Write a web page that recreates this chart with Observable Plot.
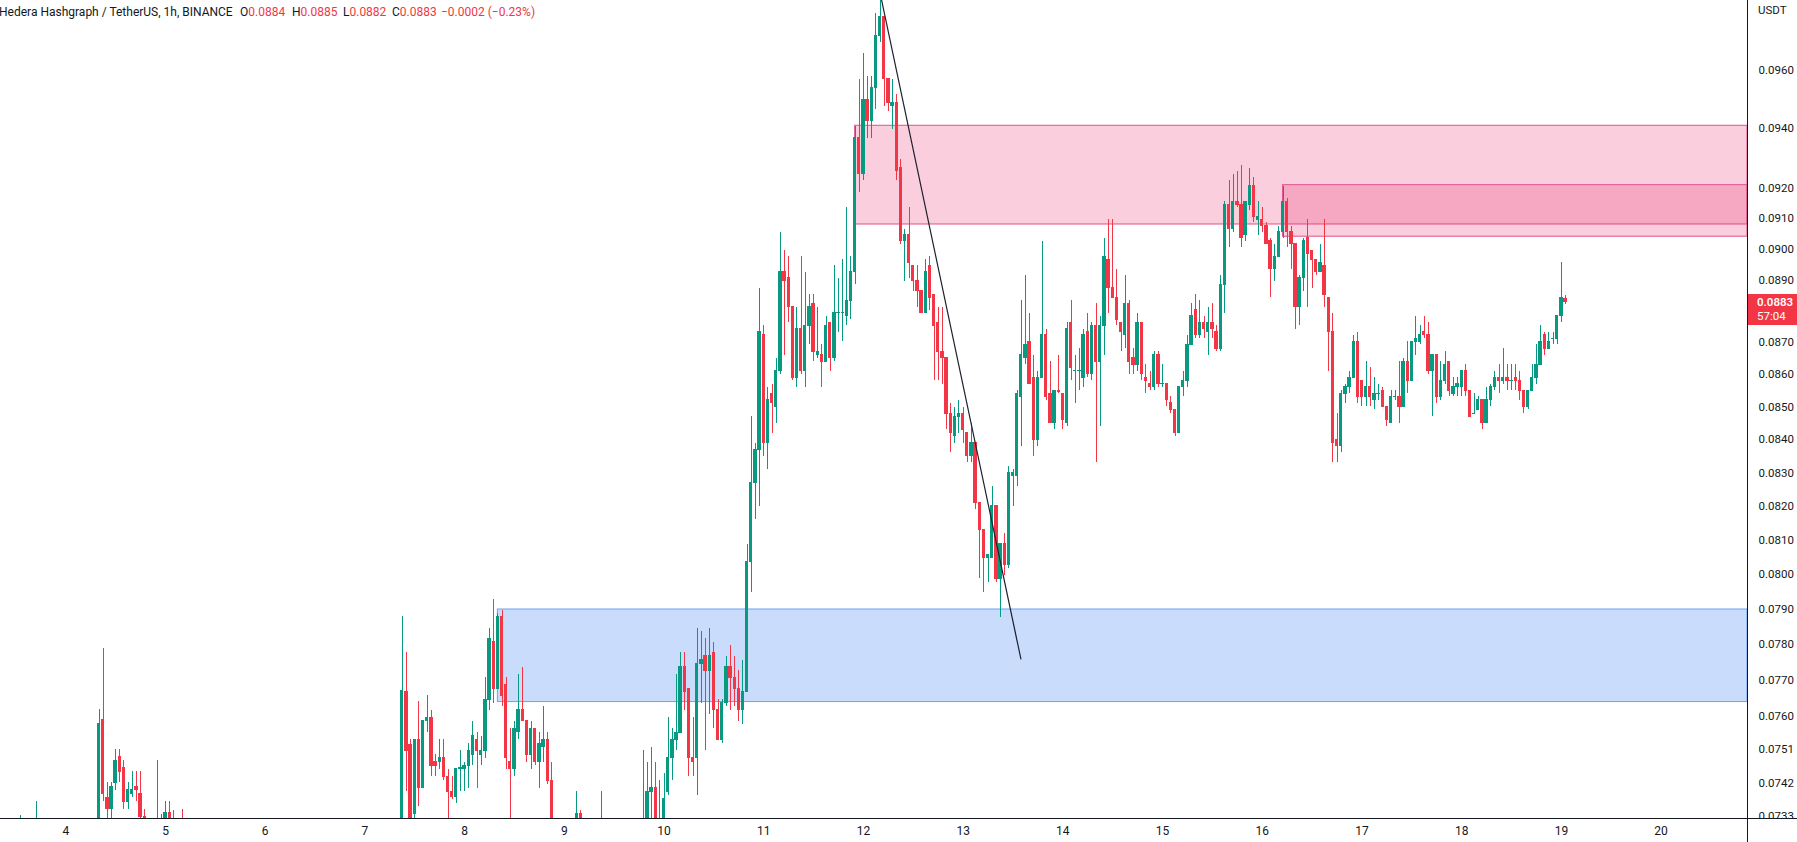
<!DOCTYPE html>
<html>
<head>
<meta charset="utf-8">
<script src="https://cdn.jsdelivr.net/npm/d3@7"></script>
<script src="https://cdn.jsdelivr.net/npm/@observablehq/plot@0.6"></script>
<style>
html,body{margin:0;padding:0;background:#fff;}
#wrap{position:relative;width:1797px;height:842px;overflow:hidden;font-family:Roboto,"Noto Sans",sans-serif;color:#131722;}
#chart svg{display:block;}
.ov{position:absolute;}
#hdr > span{position:absolute;top:0;white-space:pre;}
.red{color:#F23645;}
</style>
</head>
<body>
<div id="wrap">
  <div id="chart"></div>
  <div id="hdr" class="ov" style="left:0;top:5px;font-size:12px;line-height:15px;width:620px;height:16px;">
    <span style="left:-1px">Hedera Hashgraph / TetherUS, 1h, BINANCE</span>
    <span style="left:240px">O<span class="red">0.0884</span></span>
    <span style="left:292px">H<span class="red">0.0885</span></span>
    <span style="left:343px">L<span class="red">0.0882</span></span>
    <span style="left:392px">C<span class="red">0.0883</span></span>
    <span style="left:441px" class="red">−0.0002 (−0.23%)</span>
  </div>
</div>
<script>
// ---- data (USDT prices, 1h candles: [hour of day, open, high, low, close]) ----
const YEAR = 2022, MONTH = 5;
const day03 = [[13,.0726,.07332,.0722,.0730],[17,.0727,.0737,.0724,.0731]];
const day04 = [
 [8,.0729,.0762,.0727,.0758],[9,.0759,.0779,.0737,.0739],[10,.0738,.0742,.0732,.0735],
 [11,.0735,.0742,.0730,.0741],[12,.0742,.0751,.0740,.0748],[13,.0749,.0751,.0742,.0745],
 [14,.0746,.0748,.0735,.0737],[15,.0737,.0742,.0735,.0740],[16,.0739,.0745,.0738,.0740],
 [17,.0741,.0745,.0737,.0740],[18,.0739,.0745,.0728,.0733],[19,.0733,.0735,.0726,.0729],
 [22,.0727,.0748,.0724,.0731],[23,.0730,.07335,.0727,.0732]];
const day05 = [[0,.0731,.0737,.0729,.0734],[1,.0734,.0737,.0728,.0730],[2,.0730,.07345,.0725,.0727],[4,.0731,.0735,.0726,.0728]];
const day07 = [
 [9,.0726,.0788,.0722,.0767],[10,.07667,.07777,.07396,.07506],[11,.07521,.07536,.07306,.07316],
 [12,.07336,.07536,.07306,.07536],[13,.07536,.07642,.07356,.07406],[14,.07406,.07587,.07406,.07587],
 [15,.07587,.07657,.07556,.07597],[16,.07597,.07617,.07436,.07466],[17,.07476,.07496,.07436,.07466],
 [18,.07476,.07536,.07456,.07486],[19,.07486,.07536,.07426,.07436],[20,.07436,.07456,.07316,.07396],
 [21,.07396,.07436,.07376,.07381],[22,.07381,.07456,.07366,.07456],[23,.07456,.07506,.07396,.07461]];
const day08 = [
 [0,.07456,.07476,.07396,.07466],[1,.07466,.07526,.07406,.07506],[2,.07496,.07587,.07466,.07546],
 [3,.07536,.07556,.07406,.07506],[4,.07496,.07546,.07466,.07506],[5,.07506,.07707,.07486,.07647],
 [6,.07647,.07847,.07617,.07817],[7,.07807,.07928,.07637,.07677],[8,.07677,.07888,.07677,.07878],
 [9,.07878,.07898,.07627,.07657],[10,.07687,.07707,.07456,.07486],[11,.07476,.07567,.07316,.07456],
 [12,.07456,.07587,.07436,.07567],[13,.07557,.07717,.07536,.07617],[14,.07617,.07737,.07587,.07587],
 [15,.07587,.07587,.07476,.07496],[16,.07496,.07587,.07456,.07567],[17,.07567,.07567,.07466,.07476],
 [18,.07476,.07556,.07406,.07526],[19,.07516,.07627,.07476,.07536],[20,.07536,.07556,.07416,.07426],
 [21,.07426,.07476,.0726,.0729]];
const day09 = [
 [3,.0728,.07396,.0724,.07336],[4,.07336,.07346,.0724,.0729],[9,.0726,.07396,.0722,.0729],
 [19,.0726,.07506,.0722,.0729],[20,.0729,.07476,.0727,.07396],[21,.07396,.07516,.0728,.07406],
 [22,.07406,.07476,.0725,.0729],[23,.0728,.07426,.0725,.0730]];
const day10 = [
 [0,.0729,.07446,.0727,.07376],[1,.07396,.07597,.07386,.07486],[2,.07486,.07567,.07426,.07536],
 [3,.07536,.07717,.07506,.07556],[4,.07556,.07777,.07556,.07737],[5,.07737,.07777,.07617,.07667],
 [6,.07677,.07677,.07436,.07486],[7,.07486,.07597,.07436,.07476],[8,.07486,.07847,.07386,.07747],
 [9,.07747,.07837,.07637,.07757],[10,.07767,.07817,.07506,.07727],[11,.07727,.07847,.07607,.07767],
 [12,.07777,.07807,.07567,.07617],[13,.07617,.07647,.07536,.07536],[14,.07536,.07647,.07526,.07637],
 [15,.07637,.07767,.07627,.07737],[16,.07737,.07797,.07617,.07707],[17,.07707,.07767,.07627,.07677],
 [18,.07677,.07727,.07587,.07617],[19,.07617,.07757,.07577,.07667],[20,.07667,.08088,.07667,.08038],
 [21,.08038,.0847,.07948,.0827],[22,.0827,.0839,.0816,.0837],[23,.0837,.08873,.0820,.08733]];
const day11 = [
 [0,.08723,.08753,.0835,.0839],[1,.0839,.08561,.0831,.08521],[2,.08541,.08571,.0842,.08511],
 [3,.08501,.08651,.0845,.08611],[4,.08611,.09055,.08601,.08925],[5,.08925,.08995,.08661,.08895],
 [6,.08905,.08975,.08763,.08813],[7,.08813,.08813,.08581,.08591],[8,.08591,.08813,.08561,.08743],
 [9,.08743,.08975,.08601,.08611],[10,.08611,.08925,.08561,.08753],[11,.08753,.08853,.08693,.08813],
 [12,.08823,.08853,.08641,.08671],[13,.08661,.08813,.08651,.08671],[14,.08661,.08693,.08561,.08641],
 [15,.08641,.08783,.08641,.08753],[16,.08763,.08763,.08611,.08651],[17,.08651,.08945,.08641,.08793],
 [18,.08793,.08905,.08733,.08793],[19,.08793,.08965,.08703,.08793],[20,.08783,.09135,.08753,.08833],
 [21,.08833,.08975,.08773,.08925],[22,.08925,.09407,.08885,.09367],[23,.09367,.09569,.09185,.09247]];
const day12 = [
 [0,.09247,.09659,.09227,.09499],[1,.09499,.09579,.09367,.09427],[2,.09427,.09579,.09367,.09539],
 [3,.09539,.09799,.09467,.09719],[4,.09719,.0985,.09699,.09789],[5,.09789,.09789,.09477,.09569],
 [6,.09569,.09569,.09457,.09487],[7,.09477,.09569,.09397,.09487],[8,.09487,.09517,.09227,.09257],
 [9,.09267,.09297,.09015,.09025],[10,.09025,.09065,.08895,.09045],[11,.09045,.09135,.08905,.08955],
 [12,.08945,.08945,.08863,.08895],[13,.08895,.08945,.08813,.08863],[14,.08863,.08863,.08793,.08793],
 [15,.08793,.08965,.08793,.08925],[16,.08945,.08975,.08803,.08843],[17,.08853,.08853,.08581,.08753],
 [18,.08763,.08813,.08581,.08671],[19,.08671,.08813,.08571,.08651],[20,.08651,.08651,.0843,.0848],
 [21,.0848,.08511,.0836,.0842],[22,.0841,.0850,.0839,.0847],[23,.0847,.08521,.0842,.0848]];
const day13 = [
 [0,.0848,.0850,.0839,.0843],[1,.0842,.0842,.0833,.0835],[2,.0835,.0845,.0833,.0839],
 [3,.0839,.0839,.0819,.0821],[4,.0821,.0821,.07988,.0813],[5,.0813,.0813,.07948,.08048],
 [6,.08048,.08058,.07978,.08058],[7,.08048,.0826,.08048,.0820],[8,.0820,.0820,.07978,.07988],
 [9,.07988,.08088,.07877,.08088],[10,.08088,.0812,.07998,.08028],[11,.08028,.0832,.08018,.0830],
 [12,.0829,.0831,.0820,.0830],[13,.0829,.08551,.0826,.08541],[14,.08531,.08833,.0838,.08661],
 [15,.08651,.08915,.08631,.08693],[16,.08703,.08793,.08571,.08571],[17,.08591,.08661,.0835,.0840],
 [18,.0840,.08611,.0838,.08591],[19,.08591,.09025,.08591,.08723],[20,.08723,.08743,.08521,.08531],
 [21,.08541,.08641,.0845,.0845],[22,.0845,.08551,.0843,.08551],[23,.08551,.08661,.08541,.08546]];
const day14 = [
 [0,.08541,.08541,.0843,.0846],[1,.0845,.08763,.0844,.08743],[2,.08763,.08833,.08581,.08621],
 [3,.08611,.08661,.08511,.08611],[4,.08611,.08681,.08551,.08611],[5,.08591,.08743,.08561,.08723],
 [6,.08733,.08793,.08591,.08601],[7,.08601,.08763,.08581,.08753],[8,.08753,.08823,.0833,.08641],
 [9,.08641,.08783,.0844,.08753],[10,.08753,.09035,.08661,.08975],[11,.08965,.09095,.08793,.08873],
 [12,.08873,.09095,.08843,.08843],[13,.08843,.08935,.08753,.08773],[14,.08763,.08763,.08671,.08733],
 [15,.08723,.08915,.08681,.08823],[16,.08823,.08833,.08601,.08641],[17,.08651,.08681,.08601,.08631],
 [18,.08631,.08793,.08611,.08763],[19,.08763,.08763,.08581,.08601],[20,.08591,.08631,.08541,.08581],
 [21,.08571,.08611,.08551,.08561],[22,.08561,.08671,.08551,.08661],[23,.08661,.08671,.08561,.08571]];
const day15 = [
 [0,.08571,.08631,.08561,.08571],[1,.08571,.08571,.08501,.08521],[2,.08511,.08531,.0848,.08491],
 [3,.08491,.08491,.0841,.0842],[4,.0842,.08561,.0842,.08561],[5,.08561,.08611,.08531,.08581],
 [6,.08581,.08723,.08561,.08693],[7,.08693,.08823,.08693,.08783],[8,.08803,.08853,.08713,.08723],
 [9,.08723,.08833,.08713,.08763],[10,.08763,.08783,.08713,.08743],[11,.08733,.08813,.08661,.08763],
 [12,.08763,.08823,.08713,.08743],[13,.08733,.08753,.08671,.08681],[14,.08681,.08915,.08671,.08883],
 [15,.08883,.09155,.08793,.09145],[16,.09145,.09227,.09005,.09065],[17,.09065,.09247,.09055,.09155],
 [18,.09155,.09257,.09135,.09145],[19,.09145,.09277,.09005,.09035],[20,.09045,.09155,.09025,.09155],
 [21,.09145,.09267,.09125,.09207],[22,.09207,.09237,.09085,.09105],[23,.09095,.09155,.09045,.09105]];
const day16 = [
 [0,.09095,.09135,.09055,.09075],[1,.09075,.09085,.09015,.09015],[2,.09025,.09035,.08843,.08935],
 [3,.08935,.09015,.08895,.08975],[4,.08975,.09075,.08975,.09055],[5,.09055,.09207,.09035,.09155],
 [6,.09155,.09165,.09005,.09055],[7,.09055,.09075,.08935,.09015],[8,.09015,.09015,.08743,.08813],
 [9,.08813,.08915,.08753,.08905],[10,.08905,.09035,.08863,.09025],[11,.09035,.09095,.08813,.08985],
 [12,.08995,.08995,.08873,.08965],[13,.08965,.08965,.08915,.08925],[14,.08925,.09015,.08925,.08955],
 [15,.08945,.09095,.08813,.08853],[16,.08843,.08843,.08611,.08733],[17,.08733,.08793,.0833,.0839],
 [18,.0840,.0848,.0833,.0838],[19,.0838,.08551,.0836,.08541],[20,.08541,.08571,.08511,.08561],
 [21,.08561,.08611,.08541,.08591],[22,.08591,.08723,.08591,.08703],[23,.08703,.08733,.08511,.08531]];
const day17 = [
 [0,.08581,.08581,.08501,.08531],[1,.08531,.08641,.08501,.08561],[2,.08561,.08621,.08501,.08531],
 [3,.08521,.08591,.08491,.08541],[4,.08541,.08571,.08521,.08541],[5,.08551,.08561,.08501,.08501],
 [6,.08501,.08501,.0844,.0846],[7,.0845,.08551,.0845,.08531],[8,.08531,.08551,.08521,.08531],
 [9,.08531,.08641,.0845,.08501],[10,.08501,.08651,.08501,.08641],[11,.08641,.08703,.08541,.08581],
 [12,.08581,.08703,.08581,.08703],[13,.08703,.08783,.08661,.08713],[14,.08703,.08753,.08693,.08723],
 [15,.08733,.08783,.08713,.08723],[16,.08723,.08763,.08601,.08611],[17,.08611,.08661,.0847,.08661],
 [18,.08661,.08661,.08511,.08531],[19,.08531,.08641,.08521,.08581],[20,.08581,.08671,.08571,.08631],
 [21,.08641,.08641,.08531,.08551],[22,.08541,.08591,.08531,.08561],[23,.08561,.08591,.08531,.08571]];
const day18 = [
 [0,.08561,.08611,.08531,.08611],[1,.08611,.08631,.08531,.08551],[2,.08551,.08551,.0847,.0847],
 [3,.0848,.08541,.0848,.0848],[4,.0849,.08531,.0849,.08521],[5,.08521,.08521,.0843,.0845],
 [6,.0845,.08561,.0845,.08521],[7,.08521,.08571,.08501,.08561],[8,.08561,.08611,.08551,.08591],
 [9,.08591,.08631,.08541,.08581],[10,.08581,.08681,.08571,.08591],[11,.08591,.08631,.08551,.08581],
 [12,.08581,.08631,.08551,.08581],[13,.08591,.08631,.08551,.08581],[14,.08581,.08611,.08521,.08551],
 [15,.08551,.08551,.0848,.08501],[16,.08501,.08551,.08491,.08551],[17,.08551,.08631,.08551,.08591],
 [18,.08591,.08693,.08571,.08631],[19,.08631,.08753,.08631,.08703],[20,.08723,.08733,.08661,.08681],
 [21,.08681,.08733,.08681,.08703],[22,.08713,.08733,.08693,.08713],[23,.08713,.08783,.08693,.08783]];
const day19 = [[0,.08783,.08955,.08763,.08843],[1,.0884,.0885,.0882,.0883]];

// drawings: supply/demand zones [day, hour] start, price bounds
const zoneStart = [[11, 22], [16, 5], [8, 8]];
const zoneLow   = [0.0908, 0.0904, 0.0764];
const zoneHigh  = [0.0941, 0.0921, 0.0790];
const zoneKind  = ["supply", "supply", "demand"];
// trend line: [day, hour, minute] -> price
const trendAt    = [[12, 4, 20], [13, 13, 54]];
const trendPrice = [0.0985, 0.0776];

const dayTickDays = d3.range(4, 21);
const priceTicks = [0.0960,0.0940,0.0920,0.0910,0.0900,0.0890,0.0870,0.0860,0.0850,0.0840,0.0830,0.0820,0.0810,0.0800,0.0790,0.0780,0.0770,0.0760,0.0751,0.0742,0.0733];
const lastPrice = 0.0883, countdown = "57:04";

// ---- build tables ----
const dt = (d, h = 0, m = 0) => new Date(Date.UTC(YEAR, MONTH, d, h, m));
const dayLists = [[3,day03],[4,day04],[5,day05],[7,day07],[8,day08],[9,day09],[10,day10],[11,day11],[12,day12],[13,day13],[14,day14],[15,day15],[16,day16],[17,day17],[18,day18],[19,day19]];
const candles = dayLists.flatMap(([d, rows]) => rows.map(([hr, o, h, l, c]) => ({date: dt(d, hr), open: o, high: h, low: l, close: c})));
const ups = candles.filter(d => d.close >= d.open);
const downs = candles.filter(d => d.close < d.open);
const HOUR = 3600e3;
const xStart = new Date(+dt(4) - 15.72 * HOUR);
const xEnd = new Date(+dt(4) + 404.8 * HOUR);
const zones = zoneStart.map(([d, h], i) => ({start: dt(d, h), low: zoneLow[i], high: zoneHigh[i], kind: zoneKind[i]}));
const trend = trendAt.map(([d, h, m], i) => ({date: dt(d, h, m), price: trendPrice[i]}));
const GREEN = "#089981", RED = "#F23645";
const half = 0.4 * HOUR;

function candleMarks(data, color) {
  return [
    Plot.ruleX(data, {x: "date", y1: "low", y2: "high", stroke: color, strokeWidth: 1, clip: true, shapeRendering: "crispEdges"}),
    Plot.rect(data, {x1: d => new Date(+d.date - half), x2: d => new Date(+d.date + half), y1: "open", y2: "close", fill: color, insetTop: -0.5, insetBottom: -0.5, clip: true, shapeRendering: "crispEdges"})
  ];
}

const chart = Plot.plot({
  width: 1797, height: 842,
  marginTop: 0, marginRight: 50, marginBottom: 24, marginLeft: 0,
  style: {fontFamily: "Roboto, sans-serif", color: "#131722", background: "#ffffff"},
  x: {type: "utc", domain: [xStart, xEnd], label: null},
  y: {type: "log", domain: [0.07325, 0.09846], label: null, axis: null},
  marks: [
    Plot.rect(zones.filter(z => z.kind === "supply"), {x1: "start", x2: () => xEnd, y1: "low", y2: "high", fill: "rgb(232,45,108)", fillOpacity: 0.23, stroke: "#E0528A", strokeWidth: 1, clip: true}),
    Plot.rect(zones.filter(z => z.kind === "demand"), {x1: "start", x2: () => xEnd, y1: "low", y2: "high", fill: "rgb(41,115,245)", fillOpacity: 0.25, stroke: "#6DA2F4", strokeWidth: 1, clip: true}),
    ...candleMarks(ups, GREEN),
    ...candleMarks(downs, RED),
    Plot.line(trend, {x: "date", y: "price", stroke: "#1E222D", strokeWidth: 1.2, clip: true}),
    Plot.axisX({ticks: dayTickDays.map(d => dt(d)), tickFormat: d3.utcFormat("%-d"), tickSize: 0, tickPadding: 8, fontSize: 12, label: null}),
    // right price axis labels
    Plot.text(priceTicks, {x: () => xEnd, y: d => d, text: d => d.toFixed(4), dx: 11, textAnchor: "start", fontSize: 11.5, fill: "#131722"})
  ]
});
const wrap = document.getElementById("wrap");
document.getElementById("chart").appendChild(chart);

// axis chrome lines, cover and price label placed from the scales
const xs = chart.scale("x"), ys = chart.scale("y");
const right = xs.range[1], bottom = ys.range[0];
function addDiv(style, html) {
  const el = document.createElement("div");
  el.className = "ov";
  Object.assign(el.style, style);
  if (html) el.innerHTML = html;
  wrap.appendChild(el);
  return el;
}
addDiv({left: right + 1 + "px", top: bottom + 1 + "px", width: "60px", height: "30px", background: "#fff"});
addDiv({left: right + "px", top: "0px", width: "1px", height: "842px", background: "#131722"});
addDiv({left: "0px", top: bottom + "px", width: "1797px", height: "1px", background: "#131722"});
addDiv({left: right + 11 + "px", top: "3px", fontSize: "11.5px", lineHeight: "14px"}, "USDT");
const py = ys.apply(lastPrice);
addDiv({left: right + 1 + "px", top: (py - 7.5) + "px", width: "49px", height: "31px", background: RED, color: "#fff",
        fontSize: "11.5px", lineHeight: "14px", paddingLeft: "9px", boxSizing: "border-box", paddingTop: "1px"},
       `<b style="font-weight:600">${lastPrice.toFixed(4)}</b><br>${countdown}`);
</script>
</body>
</html>
